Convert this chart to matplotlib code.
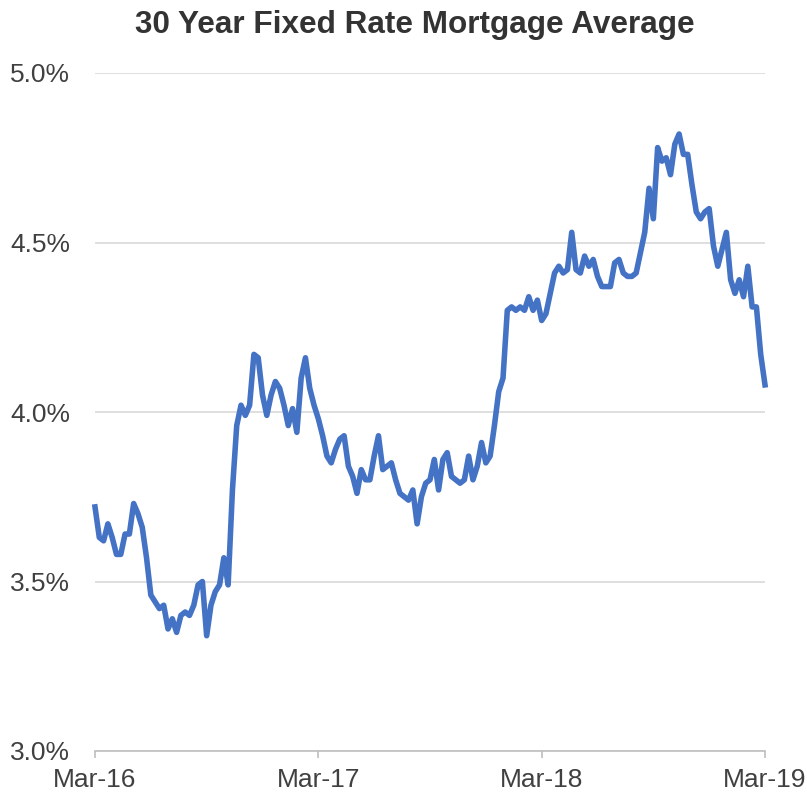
import numpy as np
import pandas as pd
import matplotlib
matplotlib.use("Agg")
import matplotlib.pyplot as plt
import matplotlib.dates as mdates
from matplotlib.ticker import FuncFormatter


# weekly 30 year fixed rate (%)
rates_y1 = [3.72, 3.63, 3.62, 3.67, 3.63, 3.58, 3.58, 3.64, 3.64, 3.73,
            3.70, 3.66, 3.57, 3.46, 3.44, 3.42, 3.43, 3.36, 3.39, 3.35,
            3.40, 3.41, 3.40, 3.43, 3.49, 3.50, 3.34, 3.43, 3.47, 3.49,
            3.57, 3.49, 3.77, 3.96, 4.02, 3.99, 4.02, 4.17, 4.16, 4.05,
            3.99, 4.05, 4.09, 4.07, 4.02, 3.96, 4.01, 3.94, 4.10, 4.16,
            4.07, 4.02]
rates_y2 = [3.98, 3.93, 3.87, 3.85, 3.89, 3.92, 3.93, 3.84, 3.81, 3.76,
            3.83, 3.80, 3.80, 3.87, 3.93, 3.83, 3.84, 3.85, 3.80, 3.76,
            3.75, 3.74, 3.77, 3.67, 3.75, 3.79, 3.80, 3.86, 3.77, 3.86,
            3.88, 3.81, 3.80, 3.79, 3.80, 3.87, 3.80, 3.84, 3.91, 3.85,
            3.87, 3.96, 4.06, 4.10, 4.30, 4.31, 4.30, 4.31, 4.30, 4.34,
            4.30, 4.33]
rates_y3 = [4.27, 4.29, 4.35, 4.41, 4.43, 4.41, 4.42, 4.53, 4.42, 4.41,
            4.46, 4.43, 4.45, 4.40, 4.37, 4.37, 4.37, 4.44, 4.45, 4.41,
            4.40, 4.40, 4.41, 4.47, 4.53, 4.66, 4.57, 4.78, 4.74, 4.75,
            4.70, 4.79, 4.82, 4.76, 4.76, 4.67, 4.59, 4.57, 4.59, 4.60,
            4.49, 4.43, 4.48, 4.53, 4.39, 4.35, 4.39, 4.34, 4.43, 4.31,
            4.31, 4.17, 4.08]

start_date = "2016-03-10"
y_ticks = [3.0, 3.5, 4.0, 4.5, 5.0]
title = "30 Year Fixed Rate Mortgage Average"


def plot_data():
    """
    Draw the weekly mortgage rate line and save it
    """
    rates = rates_y1 + rates_y2 + rates_y3
    weeks = pd.date_range(start_date, periods=len(rates), freq="7D")

    plt.rcParams["font.family"] = ["Liberation Sans", "DejaVu Sans"]
    fig = plt.figure(figsize=(8.07, 7.95), dpi=100)
    ax = fig.add_axes([95 / 807, 1 - 751 / 795, 670 / 807, 678 / 795])

    ax.plot(weeks, rates, color="#4472C4", linewidth=4.0,
            solid_joinstyle="round", clip_on=False, zorder=3)

    # axes limits and ticks
    ax.set_xlim(weeks[0], weeks[-1])
    ax.set_ylim(y_ticks[0], y_ticks[-1])
    ax.set_yticks(y_ticks)
    ax.yaxis.set_major_formatter(FuncFormatter(lambda v, p: "%.1f%%" % v))
    ax.set_xticks(weeks[::52])
    ax.xaxis.set_major_formatter(mdates.DateFormatter("%b-%y"))

    # excel-ish look: horizontal grid, only a bottom axis line
    ax.grid(axis="y", color="#d9d9d9", linewidth=1.2)
    ax.set_axisbelow(True)
    for side in ["left", "right", "top"]:
        ax.spines[side].set_visible(False)
    ax.spines["bottom"].set_color("#bfbfbf")
    ax.spines["bottom"].set_linewidth(1.2)
    ax.tick_params(axis="x", colors="#bfbfbf", length=5, width=1.2,
                   labelcolor="#404040", labelsize=19, pad=7)
    ax.tick_params(axis="y", length=0, labelcolor="#404040",
                   labelsize=19, pad=18)

    fig.text(415 / 807, 1 - 33 / 795, title, ha="center", va="baseline",
             fontsize=22.7, fontweight="bold", color="#333333")

    fig.savefig("out.png", dpi=100)


def main():
    plot_data()


if __name__ == "__main__":
    main()
